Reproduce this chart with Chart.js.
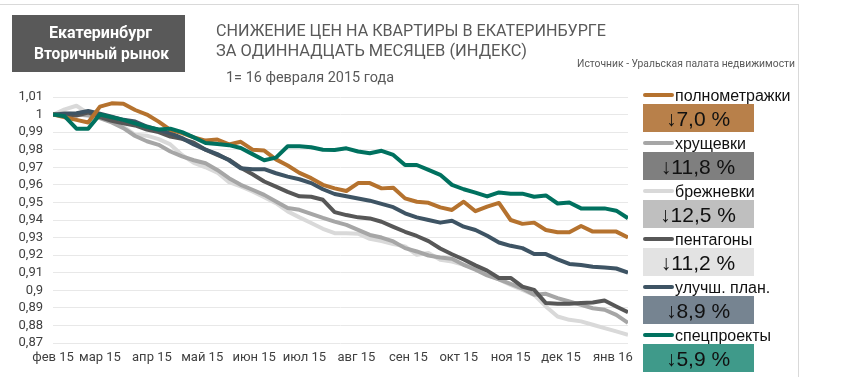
<!DOCTYPE html>
<html>
<head>
<meta charset="utf-8">
<script src="https://cdn.jsdelivr.net/npm/chart.js@4.4.1/dist/chart.umd.min.js"></script>
<style>
html, body { margin: 0; padding: 0; background: #fff; }
#wrap { position: relative; width: 864px; height: 377px; overflow: hidden; }
#wrap canvas { position: absolute; left: 0; top: 0; }
.t { position: absolute; white-space: nowrap; transform-origin: 0 50%; }
.frame-top { position: absolute; left: 0; top: 4px; width: 799px; height: 1px; background: #d9d9d9; }
.frame-right { position: absolute; left: 798px; top: 4px; width: 1px; height: 373px; background: #d9d9d9; }
.badge { position: absolute; left: 12px; top: 15px; width: 173px; height: 57px; background: #595959; }
.sw { position: absolute; left: 643px; width: 31px; height: 4px; border-radius: 2px; }
.box { position: absolute; left: 643px; width: 111px; height: 28px; }
</style>
</head>
<body>
<div id="wrap">
  <div class="frame-top"></div>
  <div class="frame-right"></div>
  <div class="badge"></div>
  <canvas id="chart_prices"></canvas>
</div>
<script>
// weekly points, days counted from the start of the period
const days = [0, 7, 14, 21, 28, 35, 42, 49, 56, 63, 70, 77, 84, 91, 98, 105, 112, 119, 126, 133,
  140, 147, 154, 161, 168, 175, 182, 189, 196, 203, 210, 217, 224, 231, 238, 245, 252, 259, 266, 273,
  280, 287, 294, 301, 308, 315, 322, 329, 336, 343];

const monthDays = [0, 28, 59, 89, 120, 150, 181, 212, 242, 273, 303, 334];
const monthLabels = ['фев 15', 'мар 15', 'апр 15', 'май 15', 'июн 15', 'июл 15',
  'авг 15', 'сен 15', 'окт 15', 'ноя 15', 'дек 15', 'янв 16'];
const yTicks = [0.87, 0.88, 0.89, 0.90, 0.91, 0.92, 0.93, 0.94, 0.95, 0.96, 0.97, 0.98, 0.99, 1.00, 1.01];

const polnometrazhki = [1.000, 0.9985, 0.997, 0.9955, 1.0045, 1.0064, 1.0062, 1.0026, 1.000, 0.996,
  0.9913, 0.9894, 0.987, 0.9852, 0.9858, 0.983, 0.9845, 0.980, 0.9795, 0.9745,
  0.971, 0.9668, 0.9638, 0.960, 0.958, 0.9565, 0.961, 0.961, 0.958, 0.9584,
  0.9523, 0.9504, 0.9498, 0.9472, 0.9457, 0.9504, 0.945, 0.9476, 0.9497, 0.940,
  0.9378, 0.9385, 0.9343, 0.933, 0.933, 0.9366, 0.9334, 0.9334, 0.9334, 0.930];
const khrushchevki = [1.000, 1.0008, 1.000, 0.9995, 0.998, 0.9955, 0.9923, 0.9878, 0.9848, 0.9828,
  0.979, 0.9762, 0.974, 0.9723, 0.9685, 0.9638, 0.960, 0.9572, 0.9543, 0.9505,
  0.9468, 0.9458, 0.9435, 0.9412, 0.9391, 0.9372, 0.9344, 0.9315, 0.930, 0.9278,
  0.924, 0.9221, 0.9198, 0.9187, 0.918, 0.9145, 0.9117, 0.9085, 0.9062, 0.9036,
  0.901, 0.8975, 0.898, 0.8955, 0.8936, 0.8917, 0.8898, 0.8889, 0.886, 0.8815];
const brezhnevki = [1.000, 1.003, 1.005, 1.0007, 0.9992, 0.996, 0.9932, 0.9885, 0.988, 0.986,
  0.983, 0.977, 0.9725, 0.970, 0.967, 0.9615, 0.9591, 0.9562, 0.953, 0.9496,
  0.9449, 0.9415, 0.9383, 0.935, 0.9325, 0.9325, 0.9322, 0.9293, 0.928, 0.9263,
  0.925, 0.9202, 0.9212, 0.9174, 0.9164, 0.9145, 0.913, 0.9087, 0.9062, 0.903,
  0.9002, 0.8974, 0.8908, 0.8851, 0.8832, 0.8823, 0.8804, 0.8785, 0.8766, 0.8747];
const pentagony = [1.000, 0.9995, 0.9995, 1.0012, 0.9985, 0.9965, 0.995, 0.9938, 0.9915, 0.990,
  0.9875, 0.9862, 0.984, 0.980, 0.9771, 0.9743, 0.9698, 0.966, 0.9619, 0.959,
  0.956, 0.9535, 0.9532, 0.9515, 0.9445, 0.9428, 0.9415, 0.9409, 0.939, 0.9361,
  0.9333, 0.9309, 0.928, 0.9238, 0.9205, 0.9175, 0.9142, 0.9112, 0.907, 0.907,
  0.9021, 0.9002, 0.8927, 0.8923, 0.8923, 0.8927, 0.893, 0.8942, 0.8908, 0.8875];
const uluchshPlan = [1.000, 1.0005, 1.0008, 1.002, 1.0005, 0.9988, 0.997, 0.996, 0.9932, 0.9913,
  0.9894, 0.9866, 0.983, 0.980, 0.9775, 0.974, 0.9694, 0.9689, 0.9689, 0.9666,
  0.9647, 0.9632, 0.961, 0.9575, 0.9548, 0.9535, 0.9522, 0.951, 0.9492, 0.9473,
  0.9438, 0.9415, 0.940, 0.9385, 0.9396, 0.9362, 0.9343, 0.931, 0.9272, 0.9253,
  0.924, 0.9206, 0.9206, 0.9176, 0.915, 0.9144, 0.9134, 0.913, 0.9124, 0.910];
const spetsproekty = [1.000, 0.999, 0.992, 0.992, 1.000, 0.9985, 0.997, 0.995, 0.993, 0.9915,
  0.992, 0.990, 0.987, 0.9838, 0.9833, 0.9826, 0.981, 0.9775, 0.974, 0.9755,
  0.982, 0.982, 0.9814, 0.980, 0.9798, 0.9808, 0.979, 0.978, 0.9794, 0.977,
  0.9713, 0.9713, 0.9685, 0.9657, 0.960, 0.9575, 0.9556, 0.9534, 0.9557, 0.955,
  0.955, 0.9532, 0.954, 0.9494, 0.950, 0.9466, 0.9466, 0.9466, 0.9453, 0.941];

const seriesNames = ['полнометражки', 'хрущевки', 'брежневки', 'пентагоны', 'улучш. план.', 'спецпроекты'];
const seriesValues = [polnometrazhki, khrushchevki, brezhnevki, pentagony, uluchshPlan, spetsproekty];
const declines = ['7,0', '11,8', '12,5', '11,2', '8,9', '5,9'];

const lineColors = ['#b5722e', '#a6a6a6', '#d9d9d9', '#575757', '#3e5464', '#00715f'];
const boxColors = ['#b8804a', '#7f7f7f', '#bfbfbf', '#e3e3e3', '#768491', '#3f9a8a'];
const drawOrder = [1, 4, 5, 3, 2, 0];

const fmt = v => String(Number(v.toFixed(2))).replace('.', ',');

Chart.defaults.font.family = 'Roboto, "Liberation Sans", sans-serif';

var chart_prices = new Chart(document.getElementById('chart_prices'), {
    type: 'line',
    data: {
        datasets: seriesNames.map((name, k) => ({
            label: name,
            data: seriesValues[k].map((v, i) => ({ x: days[i], y: v })),
            borderColor: lineColors[k],
            backgroundColor: lineColors[k],
            order: drawOrder[k]
        }))
    },
    options: {
        animation: false,
        responsive: true,
        maintainAspectRatio: false,
        layout: { padding: { left: 8, right: 236, top: 97, bottom: 10 } },
        elements: {
            point: { radius: 0 },
            line: { borderWidth: 4, tension: 0, borderJoinStyle: 'round', borderCapStyle: 'butt' }
        },
        plugins: {
            legend: { display: false },
            tooltip: { enabled: false }
        },
        scales: {
            x: {
                type: 'linear',
                min: 0,
                max: 343,
                grid: { display: false, drawTicks: false },
                border: { display: false },
                afterBuildTicks: s => { s.ticks = monthDays.map(v => ({ value: v })); },
                afterFit: s => { s.height = 24; },
                ticks: {
                    autoSkip: false,
                    maxRotation: 0,
                    padding: 7,
                    color: '#404040',
                    font: { size: 13 },
                    callback: (v, i) => monthLabels[i]
                }
            },
            y: {
                min: 0.87,
                max: 1.01,
                grid: { color: '#e8e8e8', drawTicks: false },
                border: { display: false },
                afterBuildTicks: s => { s.ticks = yTicks.map(v => ({ value: v })); },
                afterFit: s => { s.width = 45; },
                ticks: {
                    autoSkip: false,
                    padding: 10,
                    color: '#404040',
                    font: { size: 13 },
                    callback: v => fmt(v)
                }
            }
        }
    }
});

// texts around the chart, squeezed to the widths of the original
const wrap = document.getElementById('wrap');
function place(text, x, y, w, font, color) {
    const el = document.createElement('span');
    el.className = 't';
    el.textContent = text;
    el.style.font = font;
    el.style.color = color;
    const fs = parseFloat(font.match(/(\d+(\.\d+)?)px/)[1]);
    el.style.lineHeight = fs + 'px';
    el.style.top = (y - fs / 2) + 'px';
    el.style.left = x + 'px';
    wrap.appendChild(el);
    if (w) {
        const s = w / el.getBoundingClientRect().width;
        el.style.transform = 'scaleX(' + s + ')';
    }
    return el;
}

place('Екатеринбург', 49, 33, 103, 'bold 16px Roboto', '#ffffff');
place('Вторичный рынок', 34, 54, 135, 'bold 16px Roboto', '#ffffff');
place('СНИЖЕНИЕ ЦЕН НА КВАРТИРЫ В ЕКАТЕРИНБУРГЕ', 216, 30, 390, '17px Roboto', '#595959');
place('ЗА ОДИННАДЦАТЬ МЕСЯЦЕВ (ИНДЕКС)', 216, 50, 311, '17px Roboto', '#595959');
place('Источник  - Уральская  палата недвижимости', 577, 63, 218, '11px Roboto', '#595959');
place('1= 16 февраля  2015 года', 226, 77, 168, '15px Roboto', '#595959');

// legend with the decline boxes
seriesNames.forEach((name, k) => {
    const y = 95 + k * 48;
    const sw = document.createElement('div');
    sw.className = 'sw';
    sw.style.top = (y - 2) + 'px';
    sw.style.background = lineColors[k];
    wrap.appendChild(sw);
    place(name, 675, y + 1, 0, '16px "Liberation Sans", Arial, sans-serif', '#111111');

    const box = document.createElement('div');
    box.className = 'box';
    box.style.top = (y + 9) + 'px';
    box.style.background = boxColors[k];
    wrap.appendChild(box);
    const lab = place('\u2193' + declines[k] + ' %', 0, y + 23, 0, '21px "Liberation Sans", Arial, sans-serif', '#111111');
    lab.style.left = (698 - lab.getBoundingClientRect().width / 2) + 'px';
});
</script>
</body>
</html>
